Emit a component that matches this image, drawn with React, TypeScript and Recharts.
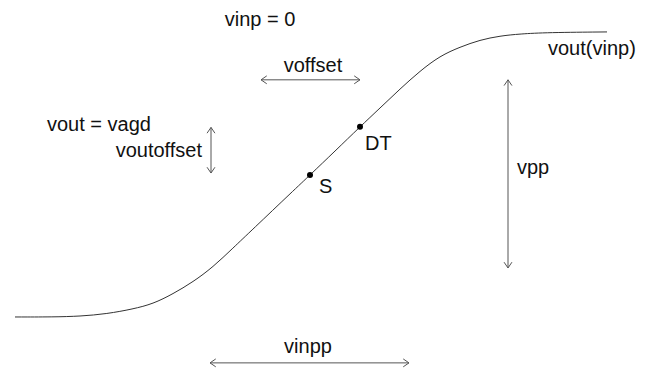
import React from "react";
import {
  LineChart,
  Line,
  XAxis,
  YAxis,
  ReferenceLine,
  ReferenceDot,
} from "recharts";

// transfer curve vout(vinp)
const vinp = [-2.95, -2.57, -2.3, -2.03, -1.77, -1.57, -1.37, -1.17, -0.97, -0.77, -0.58, -0.17, 0, 0.25, 0.5, 0.7, 0.9, 1.1, 1.3, 1.5, 1.7, 1.9, 2.1, 2.37, 2.97];
const vout = [0, 0, 0.0025, 0.011, 0.028, 0.046, 0.081, 0.123, 0.175, 0.242, 0.305, 0.442, 0.498, 0.582, 0.667, 0.733, 0.8, 0.863, 0.916, 0.947, 0.972, 0.986, 0.993, 0.998, 1.0];

// marked points on the curve
const pointNames = ["S", "DT"];
const pointX = [0, 0.5];
const pointY = [0.498, 0.667];

// double-headed dimension arrows: [x1, y1, x2, y2]
const arrowNames = ["voffset", "voutoffset", "vpp", "vinpp"];
const arrowEnds: [number, number, number, number][] = [
  [-0.49, 0.832, 0.5, 0.832],
  [-0.99, 0.665, -0.99, 0.505],
  [1.98, 0.832, 1.98, 0.172],
  [-1.0, -0.161, 0.99, -0.161],
];

// text labels: text, x, y (baseline), anchor
const labelTexts = ["vinp = 0", "voffset", "vout = vagd", "voutoffset", "DT", "S", "vout(vinp)", "vpp", "vinpp"];
const labelX = [-0.5, 0.03, -2.63, -1.08, 0.55, 0.09, 2.38, 2.07, -0.02];
const labelY = [1.021, 0.86, 0.653, 0.561, 0.586, 0.435, 0.919, 0.502, -0.126];
const labelAnchor = ["middle", "middle", "start", "end", "start", "start", "start", "start", "middle"];

const data = vinp.map((v, i) => ({ vinp: v, vout: vout[i] }));

const FONT = "'Liberation Sans', Arial, sans-serif";
const ARROW = "#555";

const ArrowShape = (props: any) => {
  const { x1, y1, x2, y2 } = props;
  if (x1 == null) return null;
  const ang = Math.atan2(y2 - y1, x2 - x1);
  const len = 7;
  const spread = 0.6;
  const head = (x: number, y: number, a: number) => {
    const ax = x - len * Math.cos(a - spread);
    const ay = y - len * Math.sin(a - spread);
    const bx = x - len * Math.cos(a + spread);
    const by = y - len * Math.sin(a + spread);
    return `M${ax},${ay}L${x},${y}L${bx},${by}`;
  };
  return (
    <g>
      <line x1={x1} y1={y1} x2={x2} y2={y2} stroke={ARROW} strokeWidth={1} />
      <path d={head(x2, y2, ang) + head(x1, y1, ang + Math.PI)} fill="none" stroke={ARROW} strokeWidth={1} />
    </g>
  );
};

export default function App() {
  return (
    <div style={{ position: "absolute", left: 0, top: 0, width: 655, height: 372, background: "#fff" }}>
      <LineChart width={655} height={372} data={data} margin={{ top: 0, right: 0, bottom: 0, left: 0 }}>
        <XAxis type="number" dataKey="vinp" domain={[-3.1, 3.45]} hide allowDataOverflow />
        <YAxis type="number" domain={[-0.193, 1.112]} hide allowDataOverflow />
        <Line
          type="basis"
          dataKey="vout"
          stroke="#333"
          strokeWidth={1}
          dot={false}
          activeDot={false}
          isAnimationActive={false}
        />
        {arrowNames.map((n, i) => (
          <ReferenceLine
            key={"arrow-" + n}
            segment={[
              { x: arrowEnds[i][0], y: arrowEnds[i][1] },
              { x: arrowEnds[i][2], y: arrowEnds[i][3] },
            ]}
            shape={ArrowShape}
            ifOverflow="visible"
          />
        ))}
        {pointNames.map((n, i) => (
          <ReferenceDot
            key={"pt-" + n}
            x={pointX[i]}
            y={pointY[i]}
            r={3}
            shape={(p: any) => <circle cx={p.cx} cy={p.cy} r={3} fill="#000" />}
          />
        ))}
        {labelTexts.map((t, i) => (
          <ReferenceDot
            key={"lbl-" + t}
            x={labelX[i]}
            y={labelY[i]}
            r={0}
            ifOverflow="visible"
            shape={(p: any) => (
              <text
                x={p.cx}
                y={p.cy}
                textAnchor={labelAnchor[i] as any}
                fontFamily={FONT}
                fontSize={20}
                fill="#111"
              >
                {t}
              </text>
            )}
          />
        ))}
      </LineChart>
    </div>
  );
}
